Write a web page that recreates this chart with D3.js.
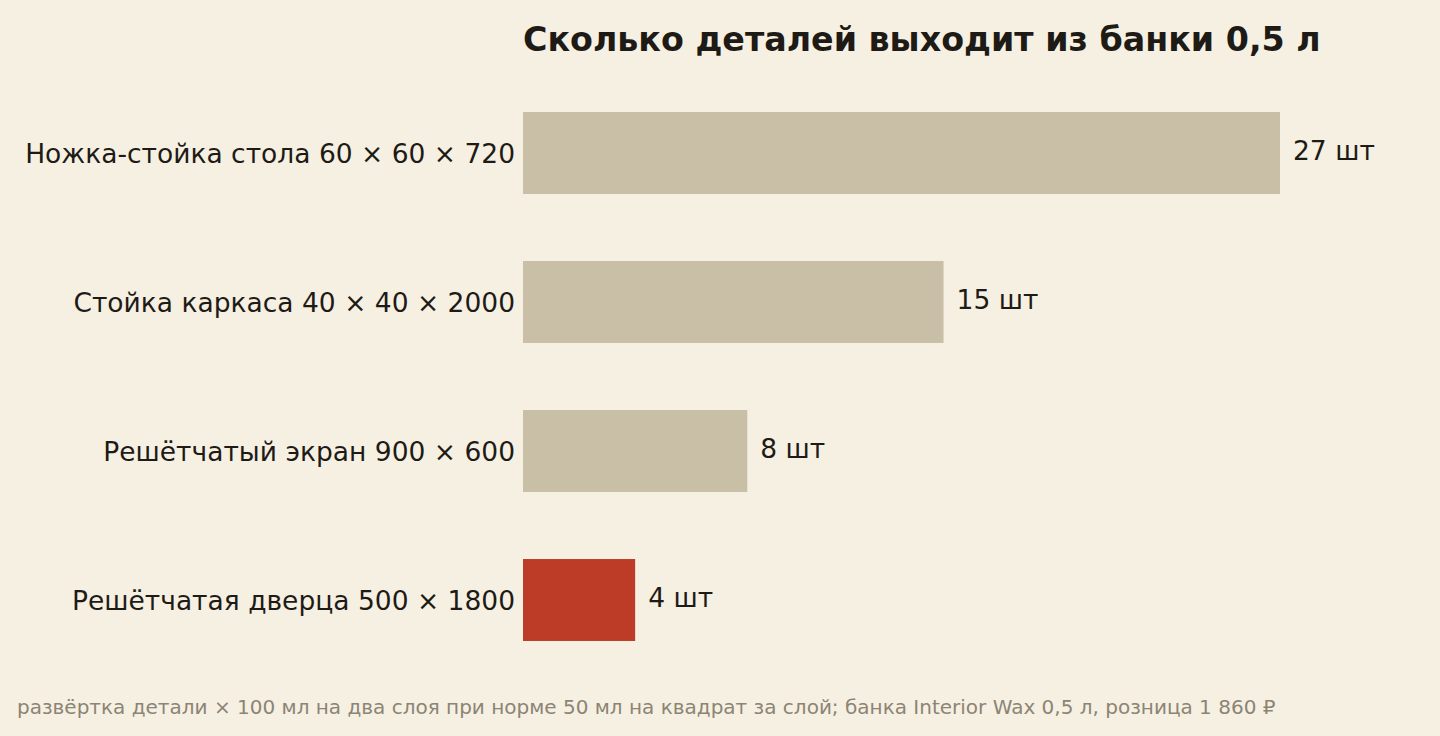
<!DOCTYPE html>
<meta charset="UTF-8">
<head>
<script src="https://cdnjs.cloudflare.com/ajax/libs/d3/7.8.5/d3.min.js"></script>
<style>
  html, body { margin: 0; padding: 0; background: #f6f0e3; }
  svg text { font-family: "DejaVu Sans", sans-serif; }
</style>
</head>
<body>
<div id="chart"></div>
<script>
// data
var categories = [
  "Ножка-стойка стола 60 × 60 × 720",
  "Стойка каркаса 40 × 40 × 2000",
  "Решётчатый экран 900 × 600",
  "Решётчатая дверца 500 × 1800"
];
var counts = [27, 15, 8, 4];
var highlight = [false, false, false, true];
var unit = "шт";

var title = "Сколько деталей выходит из банки 0,5 л";
var note = "развёртка детали × 100 мл на два слоя при норме 50 мл на квадрат за слой; банка Interior Wax 0,5 л, розница 1 860 ₽";

var W = 1440, H = 736;
var margin = {left: 523};

var svg = d3.select("#chart").append("svg")
    .attr("width", W)
    .attr("height", H);

svg.append("rect").attr("width", W).attr("height", H).attr("fill", "#f6f0e3");

var x = d3.scaleLinear()
    .domain([0, 27])
    .range([margin.left, 1280]);

var y = d3.scaleBand()
    .domain(categories)
    .range([78.5, 674.5])
    .paddingInner(0.45)
    .paddingOuter(0.225);

var rows = categories.map(function(c, i) {
  return {name: c, value: counts[i], hot: highlight[i]};
});

// bars
svg.selectAll("rect.bar")
    .data(rows)
  .enter().append("rect")
    .attr("class", "bar")
    .attr("x", x(0))
    .attr("y", function(d) { return y(d.name); })
    .attr("width", function(d) { return x(d.value) - x(0); })
    .attr("height", y.bandwidth())
    .attr("fill", function(d) { return d.hot ? "#bc3c27" : "#c9bfa7"; });

// category labels
svg.selectAll("text.cat")
    .data(rows)
  .enter().append("text")
    .attr("class", "cat")
    .attr("x", x(0) - 8)
    .attr("y", function(d) { return y(d.name) + y.bandwidth() / 2 + 1; })
    .attr("dy", "0.35em")
    .attr("text-anchor", "end")
    .attr("font-size", 26.5)
    .attr("fill", "#1e1b16")
    .text(function(d) { return d.name; });

// value labels
svg.selectAll("text.val")
    .data(rows)
  .enter().append("text")
    .attr("class", "val")
    .attr("x", function(d) { return x(d.value) + 13; })
    .attr("y", function(d) { return y(d.name) + y.bandwidth() / 2 - 2; })
    .attr("dy", "0.35em")
    .attr("font-size", 26.5)
    .attr("fill", "#1e1b16")
    .text(function(d) { return d.value + " " + unit; });

// title
svg.append("text")
    .attr("x", margin.left)
    .attr("y", 51)
    .attr("font-size", 33.3)
    .attr("font-weight", "bold")
    .attr("fill", "#1e1b16")
    .text(title);

// footnote
svg.append("text")
    .attr("x", 17)
    .attr("y", 714)
    .attr("font-size", 20)
    .attr("fill", "#8c8474")
    .text(note);
</script>
</body>
